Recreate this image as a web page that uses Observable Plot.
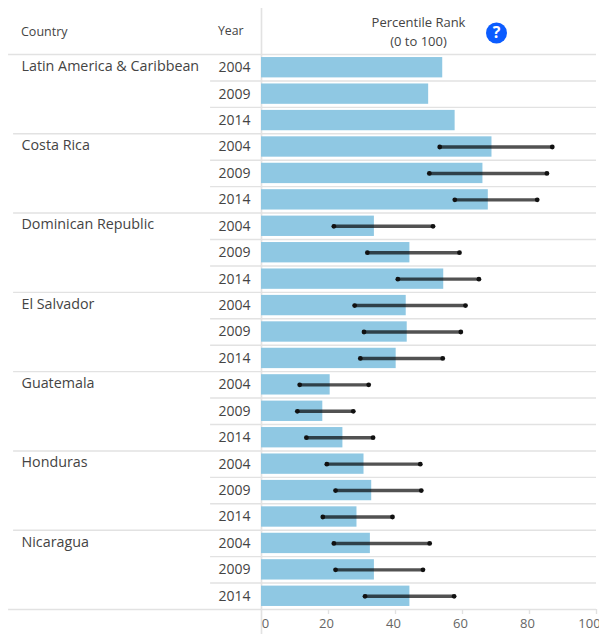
<!DOCTYPE html>
<html><head><meta charset="utf-8">
<script src="https://cdn.jsdelivr.net/npm/d3@7"></script>
<script src="https://cdn.jsdelivr.net/npm/@observablehq/plot@0.6"></script>
<style>html,body{margin:0;padding:0;background:#fff}svg{display:block}</style>
</head><body><div id="chart"></div>
<script>
const countries = ["Latin America & Caribbean","Costa Rica","Dominican Republic","El Salvador","Guatemala","Honduras","Nicaragua"];
const years = [2004,2009,2014];
const rank = [54.1,49.9,57.8, 68.8,66.1,67.7, 33.7,44.3,54.4, 43.2,43.5,40.2, 20.5,18.3,24.3, 30.6,32.9,28.5, 32.5,33.7,44.3];
const lower = [null,null,null, 53.2,50.1,57.7, 21.6,31.6,40.7, 27.8,30.6,29.5, 11.4,10.7,13.4, 19.5,22.1,18.3, 21.6,22.1,30.9];
const upper = [null,null,null, 86.8,85.2,82.3, 51.2,59.1,64.9, 60.9,59.5,54.1, 32.0,27.4,33.3, 47.4,47.7,39.1, 50.2,48.2,57.5];
const xTicks = [20,40,60,80];

const rows = countries.flatMap((c,i)=>years.map((y,j)=>{
  const k=i*3+j;
  return {key:`${c}|${y}`,country:c,year:y,rank:rank[k],lower:lower[k],upper:upper[k],first:j===0,cIndex:i};
}));
const ranged = rows.filter(d=>d.lower!=null);
const font = "'Open Sans', sans-serif";
const ink = "#444";
const lineC = "#e2e2e2";
const rowH = (609-54)/21;
// separator starts, in x-scale units left of the zero line
const xPage = -75.5, xCountry = -74, xYear = -15.2;

const plot = Plot.plot({
  width:599,height:634,marginLeft:0,marginRight:0,marginTop:8,marginBottom:25,
  style:{fontFamily:font,background:"#fff",overflow:"hidden"},
  x:{domain:[0,100],range:[261,596],axis:null},
  y:{type:"band",domain:rows.map(d=>d.key),range:[54,609],paddingInner:0.23,paddingOuter:0.115,align:0.5,round:false,axis:null},
  marks:[
    // row separators
    Plot.ruleY(rows.filter(d=>!d.first),{y:"key",dy:-rowH/2,x1:xYear,x2:100,stroke:lineC,strokeWidth:1.4}),
    Plot.ruleY(rows.filter(d=>d.first&&d.cIndex>0),{y:"key",dy:-rowH/2,x1:xCountry,x2:100,stroke:lineC,strokeWidth:1.4}),
    Plot.ruleY(rows.slice(0,1),{y:"key",dy:-rowH/2,x1:xPage,x2:100,stroke:lineC,strokeWidth:1.4}),
    Plot.ruleY(rows.slice(-1),{y:"key",dy:rowH/2,x1:xPage,x2:100,stroke:lineC,strokeWidth:1.4}),
    Plot.ruleX([0],{stroke:lineC,strokeWidth:1.6}),
    Plot.barX(rows,{x:"rank",y:"key",fill:"#8fc8e3"}),
    Plot.ruleY(ranged,{y:"key",x1:"lower",x2:"upper",stroke:"#000",strokeOpacity:0.68,strokeWidth:3.4}),
    Plot.dot(ranged,{x:"lower",y:"key",r:2.4,fill:"#111"}),
    Plot.dot(ranged,{x:"upper",y:"key",r:2.4,fill:"#111"}),
    // row labels
    Plot.text(rows.filter(d=>d.first),{y:"key",text:"country",frameAnchor:"left",textAnchor:"start",dx:21,dy:-1.5,fontSize:14.3,fill:ink}),
    Plot.text(rows,{y:"key",text:d=>String(d.year),frameAnchor:"left",textAnchor:"start",dx:218,dy:0,fontSize:14,fill:ink}),
    // header
    Plot.text(["Country"],{frameAnchor:"top-left",textAnchor:"start",dx:20.5,dy:23,lineAnchor:"middle",fontSize:12.5,fill:ink}),
    Plot.text(["Year"],{frameAnchor:"top-left",textAnchor:"start",dx:217.5,dy:23,lineAnchor:"middle",fontSize:12.3,fill:ink}),
    Plot.text(["Percentile Rank"],{frameAnchor:"top-left",textAnchor:"middle",dx:418,dy:14.5,lineAnchor:"middle",fontSize:13,fill:ink}),
    Plot.text(["(0 to 100)"],{frameAnchor:"top-left",textAnchor:"middle",dx:418,dy:33.5,lineAnchor:"middle",fontSize:13,fill:ink}),
    Plot.dot([0],{frameAnchor:"top-left",dx:496,dy:24.5,r:10.5,fill:"#0b5cff"}),
    Plot.text(["?"],{frameAnchor:"top-left",textAnchor:"middle",dx:496,dy:24.5,lineAnchor:"middle",fontSize:16,fontWeight:"bold",fill:"#fff"}),
    // x axis
    Plot.axisX({ticks:[...xTicks,100],tickSize:5,stroke:lineC,strokeWidth:1.4,tickFormat:()=>"",label:null}),
    Plot.axisX({ticks:[0],tickSize:25,stroke:lineC,strokeWidth:1.6,tickFormat:()=>"",label:null}),
    Plot.axisX({ticks:xTicks,tickSize:0,tickPadding:9.5,dx:-2,label:null,fontSize:13,fill:"#666"}),
    Plot.axisX({ticks:[0],tickSize:0,tickPadding:9.5,dx:4,label:null,fontSize:13,fill:"#666"}),
    Plot.axisX({ticks:[100],tickSize:0,tickPadding:9.5,dx:-7,label:null,fontSize:13,fill:"#666"})
  ]
});
document.getElementById("chart").append(plot);
</script></body></html>
